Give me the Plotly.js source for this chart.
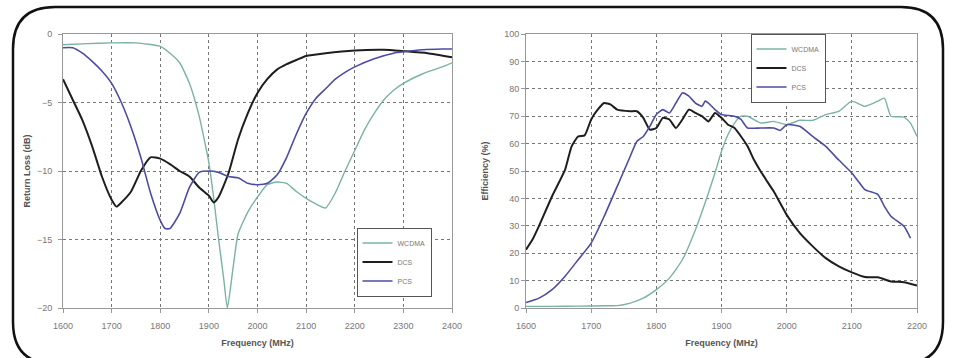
<!DOCTYPE html>
<html><head><meta charset="utf-8">
<script src="https://cdn.plot.ly/plotly-3.0.1.min.js"></script>
<style>html,body{margin:0;padding:0;background:#fff}#c{width:953px;height:358px}</style>
</head><body><div id="c"></div>
<script>
// Left chart: Return Loss (dB)
const rlWcdmaF = [1600,1650,1700,1750,1800,1820,1840,1860,1880,1900,1910,1920,1930,1938,1950,1960,1980,2000,2020,2040,2060,2080,2100,2120,2140,2160,2180,2200,2220,2240,2260,2280,2300,2340,2380,2400];
const rlWcdma  = [-0.78,-0.7,-0.65,-0.65,-0.9,-1.4,-2.1,-3.6,-6.0,-9.4,-12,-15,-17.7,-20,-17,-14.6,-13,-11.9,-11,-10.8,-10.9,-11.5,-12,-12.4,-12.7,-11.6,-10,-8.5,-7,-5.8,-4.8,-4.1,-3.6,-2.9,-2.4,-2.1];
const rlDcsF = [1600,1620,1640,1660,1680,1700,1710,1720,1740,1760,1780,1800,1820,1840,1860,1880,1900,1910,1920,1940,1960,1980,2000,2020,2040,2060,2080,2100,2140,2200,2260,2300,2350,2400];
const rlDcs  = [-3.3,-4.8,-6.3,-8.2,-10.4,-12.1,-12.6,-12.3,-11.5,-10,-9,-9.1,-9.5,-10,-10.4,-11.2,-11.8,-12.3,-11.9,-10.2,-7.7,-5.8,-4.3,-3.3,-2.6,-2.2,-1.9,-1.6,-1.4,-1.2,-1.15,-1.25,-1.4,-1.7];
const rlPcsF = [1600,1620,1640,1660,1680,1700,1720,1740,1760,1780,1800,1810,1820,1840,1860,1880,1900,1920,1940,1960,1980,2000,2020,2040,2060,2080,2100,2120,2140,2160,2180,2200,2240,2280,2300,2340,2380,2400];
const rlPcs  = [-1.0,-1.0,-1.4,-2.0,-2.7,-3.6,-5.0,-6.8,-9.0,-11.6,-13.6,-14.2,-14.2,-13.1,-11.2,-10.1,-10,-10.1,-10.4,-10.5,-10.9,-11,-10.9,-10.3,-9,-7.3,-5.8,-4.7,-4.0,-3.3,-2.8,-2.4,-1.8,-1.4,-1.3,-1.15,-1.1,-1.1];

// Right chart: Efficiency (%)
const efWcdmaF = [1600,1640,1680,1720,1740,1760,1780,1800,1820,1840,1860,1880,1890,1900,1910,1920,1930,1940,1960,1980,2000,2020,2040,2060,2080,2100,2120,2140,2150,2160,2180,2190,2200];
const efWcdma  = [0.6,0.6,0.7,0.8,0.85,1.8,3.6,6.7,10.9,17.6,28.6,42,49.3,57.2,63.3,67.5,70,70,67.5,68.1,66.9,68.5,68.5,70.6,71.8,75.5,73.6,75.5,76.6,70,69.7,67.5,62.6];
const efDcsF = [1600,1610,1620,1640,1660,1670,1680,1690,1700,1710,1720,1730,1740,1760,1770,1780,1790,1800,1810,1820,1830,1840,1850,1860,1870,1880,1890,1900,1910,1920,1930,1940,1950,1960,1970,1980,1990,2000,2020,2040,2060,2080,2100,2120,2140,2160,2180,2200];
const efDcs  = [21.3,25,30,40.8,50.5,59,62.6,63,68.8,72.4,74.8,74.2,72.4,71.8,71.8,69.4,65.1,65.7,69.4,68.8,65.7,68.8,72.4,71.2,70,68.1,71.2,69.4,66.9,65.7,62.6,59,54,49.9,46.2,42.6,38.3,34,27.4,22.5,18.2,15.2,13,11.3,11.2,9.7,9.4,8.2];
const efPcsF = [1600,1620,1640,1660,1680,1700,1720,1740,1760,1770,1780,1790,1800,1810,1820,1830,1840,1850,1860,1870,1875,1880,1890,1900,1920,1930,1940,1960,1980,1990,2000,2020,2040,2060,2080,2100,2110,2120,2140,2150,2160,2180,2190];
const efPcs  = [2,3.6,6.7,11.6,17.6,23.7,33.5,44.4,55.4,60.8,62.6,66.3,70.6,72.4,71.2,74.8,78.5,77.3,74.8,73.6,75.5,74.8,72.4,70.6,70,68.8,65.7,65.7,65.7,64.8,66.9,66.3,62.6,59,54,49.3,46.2,43.2,41.4,37.1,33.5,29.8,25.5];

const colors = {WCDMA:'#7ab3a3', DCS:'#1e1e1e', PCS:'#4c4ca2'};
const widths = {WCDMA:1.4, DCS:2, PCS:1.6};

const W = 953, H = 358;
const px = x => x / W, py = y => 1 - y / H;

function tr(x, y, name, xa, ya, leg) {
  return {x, y, name, type:'scatter', mode:'lines', xaxis:xa, yaxis:ya, legend:leg, showlegend:true,
    line:{color:colors[name], width:widths[name], shape:'spline', smoothing:0.5}};
}
const data = [
  tr(rlWcdmaF, rlWcdma, 'WCDMA','x','y','legend'),
  tr(rlDcsF, rlDcs, 'DCS','x','y','legend'),
  tr(rlPcsF, rlPcs, 'PCS','x','y','legend'),
  tr(efWcdmaF, efWcdma, 'WCDMA','x2','y2','legend2'),
  tr(efDcsF, efDcs, 'DCS','x2','y2','legend2'),
  tr(efPcsF, efPcs, 'PCS','x2','y2','legend2')
];

const FAM = 'Liberation Sans, Arial, sans-serif';
const tickFont = {family:FAM, size:9, color:'#777'};
const titleFont = {family:FAM, size:9, color:'#555', weight:'bold'};
function ax(extra) {
  return Object.assign({
    showline:true, mirror:true, linecolor:'#999', linewidth:1,
    ticks:'outside', ticklen:4, tickcolor:'#999',
    showgrid:true, gridcolor:'#777', griddash:'dot', gridwidth:1,
    zeroline:false, tickfont:tickFont, fixedrange:true
  }, extra);
}

// rounded frame path (pixel coords -> paper)
const L = 13, T = 7, R = 943, B = 364, rad = 42;
function P(x, y) { return px(x).toFixed(5) + ',' + py(y).toFixed(5); }
const frame = 'M' + P(L + rad, T) + ' L' + P(R - rad, T) + ' Q' + P(R, T) + ' ' + P(R, T + rad) +
  ' L' + P(R, B - rad) + ' Q' + P(R, B) + ' ' + P(R - rad, B) +
  ' L' + P(L + rad, B) + ' Q' + P(L, B) + ' ' + P(L, B - rad) +
  ' L' + P(L, T + rad) + ' Q' + P(L, T) + ' ' + P(L + rad, T) + ' Z';

const legendStyle = {bgcolor:'#fff', bordercolor:'#555', borderwidth:1,
  font:{family:FAM, size:7, color:'#777'},
  itemwidth:30, tracegroupgap:0, xanchor:'center', yanchor:'middle'};

const layout = {
  width:W, height:H, margin:{l:0,r:0,t:0,b:0}, paper_bgcolor:'#fff', plot_bgcolor:'#fff',
  showlegend:true,
  xaxis: ax({domain:[px(63), px(452)], range:[1600,2400], dtick:100, tick0:1600, anchor:'y', ticklabelstandoff:5,
    title:{text:'Frequency (MHz)', font:titleFont, standoff:9}}),
  yaxis: ax({domain:[py(308), py(34)], range:[-20,0], dtick:5, anchor:'x', ticklabelstandoff:4,
    title:{text:'Return Loss (dB)', font:titleFont, standoff:4}}),
  xaxis2: ax({domain:[px(526), px(917)], range:[1600,2200], dtick:100, tick0:1600, anchor:'y2', ticklabelstandoff:5,
    title:{text:'Frequency (MHz)', font:titleFont, standoff:9}}),
  yaxis2: ax({domain:[py(308), py(34)], range:[0,100], dtick:10, anchor:'x2',
    title:{text:'Efficiency (%)', font:titleFont, standoff:14}}),
  legend: Object.assign({x:px(394), y:py(262)}, legendStyle),
  legend2: Object.assign({x:px(788), y:py(68)}, legendStyle),
  shapes:[{type:'path', xref:'paper', yref:'paper', path:frame, line:{color:'#111', width:2.5}, fillcolor:'rgba(0,0,0,0)', layer:'above'}]
};
Plotly.newPlot('c', data, layout, {staticPlot:true, displayModeBar:false});
</script></body></html>
